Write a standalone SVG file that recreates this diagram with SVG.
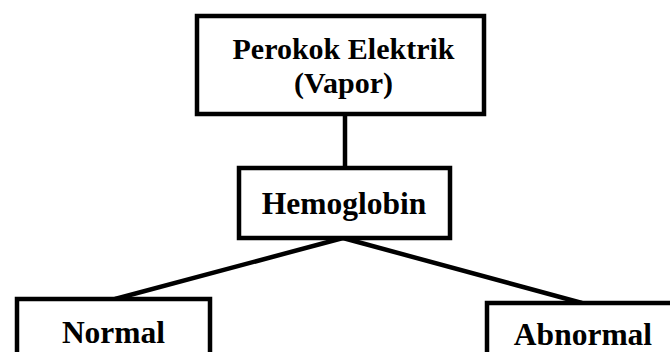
<svg xmlns="http://www.w3.org/2000/svg" width="670" height="352" viewBox="0 0 670 352">
<style>
.box{fill:#fff;stroke:#000;stroke-width:4.5}
.lbl{font-family:"Liberation Serif","Times New Roman",serif;font-weight:bold;fill:#000;text-anchor:middle}
.conn{stroke:#000;stroke-width:4.5;fill:none}
</style>
<rect width="670" height="352" fill="#fff"/>
<g id="connectors">
<line class="conn" x1="345" y1="114" x2="345" y2="168"/>
<line class="conn" x1="343" y1="238" x2="115" y2="299"/>
<line class="conn" x1="343" y1="238" x2="582" y2="303"/>
</g>
<g id="node-perokok">
<rect class="box" x="197" y="16" width="287" height="98"/>
<text class="lbl" x="343.5" y="59" font-size="30">Perokok Elektrik</text>
<text class="lbl" x="343.5" y="93" font-size="30">(Vapor)</text>
</g>
<g id="node-hemoglobin">
<rect class="box" x="239" y="168" width="211" height="70"/>
<text class="lbl" x="344" y="214" font-size="31.5">Hemoglobin</text>
</g>
<g id="node-normal">
<rect class="box" x="17" y="299" width="193" height="100"/>
<text class="lbl" x="113.5" y="343" font-size="31.5">Normal</text>
</g>
<g id="node-abnormal">
<rect class="box" x="487" y="303" width="220" height="100"/>
<text class="lbl" x="583" y="345" font-size="31.5">Abnormal</text>
</g>
</svg>
